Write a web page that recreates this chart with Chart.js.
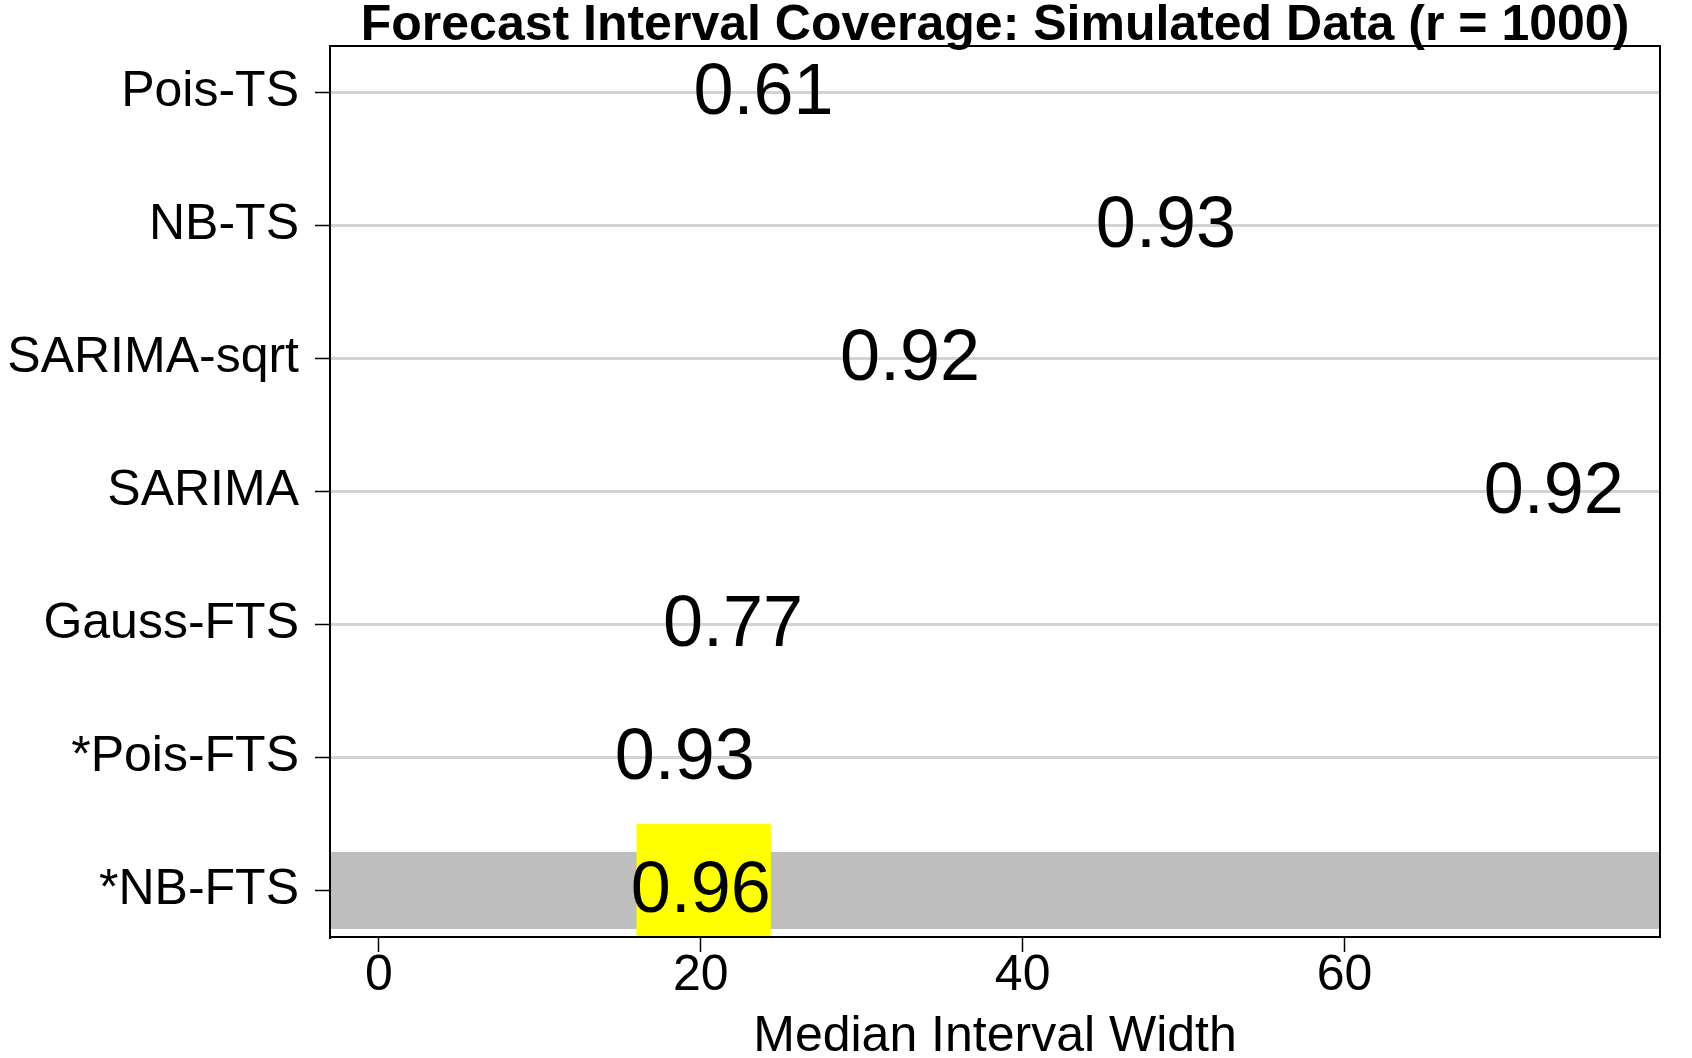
<!DOCTYPE html>
<html>
<head>
<meta charset="utf-8">
<script src="https://cdn.jsdelivr.net/npm/chart.js@4.4.1/dist/chart.umd.min.js"></script>
<style>
  html, body { margin: 0; padding: 0; background: #fff; }
  #wrap { width: 1692px; height: 1058px; }
</style>
</head>
<body>
<div id="wrap"><canvas id="chart" width="1692" height="1058"></canvas></div>
<script>
// data
const methods = ['Pois-TS', 'NB-TS', 'SARIMA-sqrt', 'SARIMA', 'Gauss-FTS', '*Pois-FTS', '*NB-FTS'];
const rowPos = [7, 6, 5, 4, 3, 2, 1];
const medianWidth = [23.9, 48.9, 33.0, 73.0, 22.0, 19.0, 20.0];
const coverage = ['0.61', '0.93', '0.92', '0.92', '0.77', '0.93', '0.96'];
const xTicks = [0, 20, 40, 60];

const TITLE = 'Forecast Interval Coverage: Simulated Data (r = 1000)';
const FONT = "'Liberation Sans', Arial, Helvetica, sans-serif";
const BEST = '*NB-FTS';

// highlight of the best method: grey band across the row, yellow box behind its label
const bandHalf = 0.29;
const boxX = [16.0, 24.35];
const boxTop = 1.5;

const overlay = {
  id: 'overlay',
  beforeDatasetsDraw(chart) {
    const { ctx, chartArea: area, scales: { x, y } } = chart;
    const i = methods.indexOf(BEST);
    ctx.save();
    const top = y.getPixelForValue(rowPos[i] + bandHalf);
    const bot = y.getPixelForValue(rowPos[i] - bandHalf);
    ctx.fillStyle = '#bebebe';
    ctx.fillRect(area.left, top, area.right - area.left, bot - top);
    const bx0 = x.getPixelForValue(boxX[0]);
    const bx1 = x.getPixelForValue(boxX[1]);
    const by0 = y.getPixelForValue(boxTop);
    ctx.fillStyle = '#ffff00';
    ctx.fillRect(bx0, by0, bx1 - bx0, area.bottom - by0);
    ctx.restore();
  },
  afterDatasetsDraw(chart) {
    const { ctx } = chart;
    const meta = chart.getDatasetMeta(0);
    ctx.save();
    ctx.fillStyle = '#000';
    ctx.font = `72px ${FONT}`;
    ctx.textAlign = 'center';
    ctx.textBaseline = 'middle';
    meta.data.forEach((pt, i) => {
      ctx.fillText(coverage[i], pt.x, pt.y + 2);
    });
    ctx.restore();
  },
  afterDraw(chart) {
    const { ctx, chartArea: area } = chart;
    ctx.save();
    ctx.strokeStyle = '#000';
    ctx.lineWidth = 2;
    ctx.strokeRect(area.left, area.top, area.right - area.left, area.bottom - area.top);
    ctx.fillStyle = '#000';
    ctx.font = `bold 50px ${FONT}`;
    ctx.textAlign = 'center';
    ctx.textBaseline = 'alphabetic';
    ctx.fillText(TITLE, (area.left + area.right) / 2, 40);
    ctx.restore();
  },
};

new Chart(document.getElementById('chart').getContext('2d'), {
  type: 'scatter',
  data: {
    datasets: [
      {
        label: 'Coverage',
        data: methods.map((m, i) => ({ x: medianWidth[i], y: rowPos[i] })),
        pointRadius: 0,
        pointHoverRadius: 0,
      },
    ],
  },
  options: {
    responsive: false,
    animation: false,
    devicePixelRatio: 1,
    layout: { padding: { top: 45, right: 32, left: 0, bottom: 0 } },
    scales: {
      x: {
        type: 'linear',
        position: 'bottom',
        min: -3.04,
        max: 79.6,
        afterBuildTicks: (scale) => { scale.ticks = xTicks.map((v) => ({ value: v })); },
        afterFit: (scale) => { scale.height = 121; },
        border: { display: true, color: '#000', width: 2 },
        grid: { drawOnChartArea: false, drawTicks: true, tickLength: 15, tickColor: '#000', tickWidth: 1.5 },
        ticks: { color: '#000', font: { family: FONT, size: 50 }, padding: -6, maxRotation: 0 },
        title: {
          display: true,
          text: 'Median Interval Width',
          color: '#000',
          font: { family: FONT, size: 50, lineHeight: 1 },
          padding: { top: 0, bottom: -4 },
        },
      },
      y: {
        type: 'linear',
        min: 0.65,
        max: 7.35,
        afterBuildTicks: (scale) => { scale.ticks = rowPos.map((v) => ({ value: v })); },
        afterFit: (scale) => { scale.width = 330; },
        border: { display: true, color: '#000', width: 2 },
        grid: { color: '#d3d3d3', lineWidth: 3, drawTicks: true, tickLength: 15, tickColor: '#000', tickWidth: 1.5 },
        ticks: {
          color: '#000',
          font: { family: FONT, size: 50 },
          padding: 16,
          autoSkip: false,
          callback: (value) => methods[rowPos.indexOf(value)] ?? '',
        },
      },
    },
    plugins: {
      legend: { display: false },
      tooltip: { enabled: false },
      title: { display: false },
    },
  },
  plugins: [overlay],
});
</script>
</body>
</html>
